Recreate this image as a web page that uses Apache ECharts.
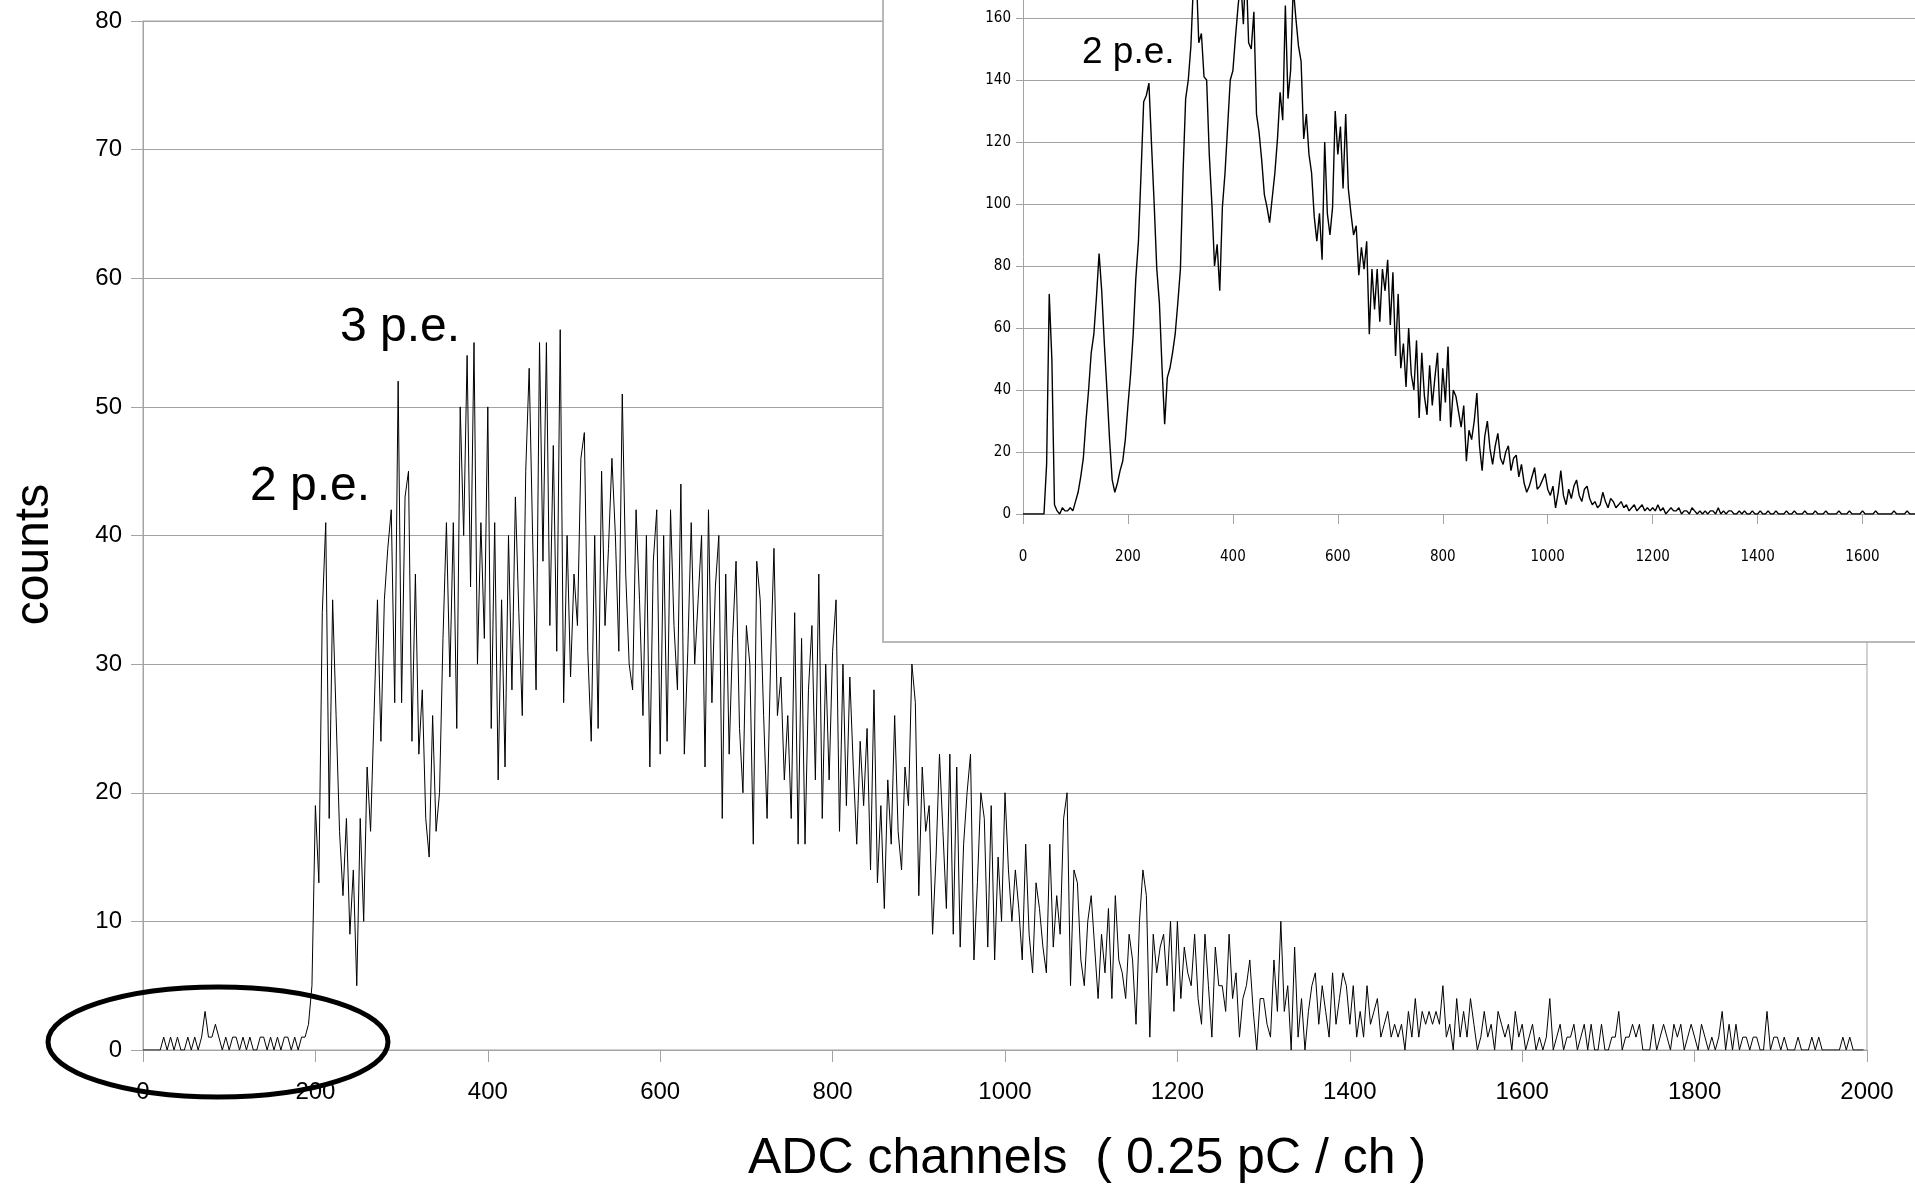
<!DOCTYPE html>
<html>
<head>
<meta charset="utf-8">
<title>ADC spectrum</title>
<script src="https://cdn.jsdelivr.net/npm/echarts@6.0.0/dist/echarts.min.js"></script>
<style>
  html, body { margin: 0; padding: 0; background: #fff; }
  #chart { width: 1915px; height: 1184px; }
</style>
</head>
<body>
<div id="chart"></div>
<script>
// main spectrum: counts per ADC bin, one value every 4 channels (0..1996)
const mainStep = 4;
const mainCounts = [
  0,0,0,0,0,0,1,0,1,0,1,0,0,1,0,1,0,1,3,1,1,2,1,0,1,
  0,1,1,0,1,0,1,0,0,1,1,0,1,0,1,0,1,1,0,1,0,1,1,2,5,
  19,13,34,41,18,35,26,17,12,18,9,14,5,18,10,22,17,26,35,24,35,39,42,27,52,
  27,43,45,24,37,23,28,18,15,26,17,20,32,41,29,41,25,50,40,54,36,55,30,41,32,
  50,25,41,21,35,22,40,28,43,34,26,45,53,40,28,55,38,55,33,47,31,56,27,40,29,
  37,33,46,48,31,24,40,25,45,33,39,46,40,31,51,37,30,28,42,35,26,40,22,38,42,
  23,40,24,42,33,28,44,23,31,41,30,35,40,22,42,27,36,40,18,37,23,32,38,25,20,
  33,30,16,38,35,26,18,30,39,26,29,21,26,18,34,16,32,16,28,33,21,37,18,30,21,
  31,35,17,30,19,29,22,16,24,19,25,14,28,13,19,11,21,16,26,17,14,22,19,30,27,
  12,22,17,19,9,15,23,17,11,23,9,22,8,16,20,23,7,13,20,18,8,19,7,15,10,
  20,14,10,14,11,7,16,9,6,13,11,8,6,16,8,12,9,18,20,5,14,13,7,5,10,
  12,8,4,9,6,11,4,12,7,6,4,9,7,2,10,14,12,1,9,6,8,9,5,10,3,
  10,4,8,6,5,9,4,2,9,5,1,8,5,5,3,9,4,6,1,4,5,7,3,0,4,
  4,2,1,7,3,10,3,5,0,8,1,4,0,3,5,6,2,5,3,1,6,2,4,6,5,
  2,5,1,3,1,5,2,3,4,1,2,3,1,2,1,2,0,3,1,4,1,3,2,3,2,
  3,2,5,1,2,0,4,1,3,1,4,2,0,1,3,1,2,0,3,2,1,2,0,3,1,
  2,0,1,2,0,1,0,1,4,0,1,2,0,1,1,2,0,1,2,0,2,0,0,2,0,
  0,1,1,3,0,1,1,2,1,2,0,0,0,2,0,1,2,1,0,2,1,2,0,1,2,
  1,0,2,1,0,1,0,1,3,0,2,0,2,0,1,1,0,1,1,0,0,3,0,1,1,
  0,1,0,0,0,1,0,0,0,1,0,1,0,0,0,0,0,0,1,0,1,0,0,0,0
];

// inset spectrum: one value every 5 channels (0..1700)
const insetStep = 5;
const insetCounts = [
  0,0,0,0,0,0,0,0,0,16,71,50,3,1,0,2,1,1,2,1,
  4,7,12,18,30,40,52,58,70,84,72,55,40,24,11,7,10,14,17,24,
  35,45,58,76,88,110,133,135,139,119,100,79,68,47,29,44,47,52,58,68,
  79,110,134,140,151,172,176,152,155,141,140,116,100,80,87,72,99,110,125,140,
  143,154,164,172,158,178,152,150,162,129,123,114,103,99,94,102,110,121,136,127,
  164,134,143,170,160,151,146,121,129,116,110,96,88,97,82,120,97,90,99,130,
  116,125,105,129,105,97,90,93,77,86,79,88,58,79,66,79,62,79,72,82,
  61,78,51,71,47,55,41,60,45,40,56,31,52,38,32,48,35,44,52,30,
  47,36,54,28,40,38,33,28,35,17,27,24,30,39,22,14,25,30,21,16,
  22,26,18,16,20,22,14,18,19,12,16,10,7,9,12,15,8,9,11,13,
  8,6,9,2,7,14,6,3,8,5,9,11,6,4,8,9,5,3,4,2,
  3,7,4,2,5,4,2,3,4,2,3,1,2,3,1,2,3,1,2,1,
  2,1,3,1,2,0,1,2,1,1,2,0,1,1,0,2,1,0,1,0,
  1,0,1,1,0,2,0,1,0,1,1,0,0,1,0,1,0,0,1,0,
  0,1,0,0,1,0,0,1,0,0,0,1,0,0,1,0,0,0,1,0,
  0,0,1,0,0,0,1,0,0,0,0,1,0,0,0,1,0,0,0,0,
  1,0,0,0,0,1,0,0,0,0,0,0,1,0,0,0,0,1,0,0,
  0
];

const mainXTicks = [0, 200, 400, 600, 800, 1000, 1200, 1400, 1600, 1800, 2000];
const mainYTicks = [0, 10, 20, 30, 40, 50, 60, 70, 80];
const insetXTicks = [0, 200, 400, 600, 800, 1000, 1200, 1400, 1600];
const insetYTicks = [0, 20, 40, 60, 80, 100, 120, 140, 160, 180];

const peakLabels = ["2 p.e.", "3 p.e."];
const xTitle = "ADC channels  ( 0.25 pC / ch )";
const yTitle = "counts";

var mainData = mainCounts.map(function (v, i) { return [i * mainStep, v]; });
var insetData = insetCounts.map(function (v, i) { return [i * insetStep, v]; });

var grey = "#a3a3a3";
var sans = '"Liberation Sans", Arial, sans-serif';
var narrow = '"DejaVu Sans Condensed", "Liberation Sans Narrow", sans-serif';

function plain(v) { return String(v); }

var myChart = echarts.init(document.getElementById("chart"), null, { renderer: "canvas" });

var option = {
  animation: false,
  backgroundColor: "#fff",
  grid: [
    {
      left: 143, right: 48, top: 21, bottom: 134, outerBoundsMode: "none",
      show: true, borderColor: grey, borderWidth: 1, backgroundColor: "transparent"
    },
    {
      // top is off the page on purpose: the inset is cropped above 165
      left: 1023, right: 0, top: -44, bottom: 670, outerBoundsMode: "none"
    }
  ],
  xAxis: [
    {
      gridIndex: 0, type: "value",
      min: mainXTicks[0], max: mainXTicks[mainXTicks.length - 1], interval: 200,
      name: xTitle, nameLocation: "middle", nameGap: 84,
      nameTextStyle: { fontFamily: sans, fontSize: 50, color: "#000", padding: [0, 0, 0, 164] },
      axisLine: { show: true, lineStyle: { color: grey, width: 1 } },
      axisTick: { show: true, length: 12, lineStyle: { color: grey } },
      axisLabel: { fontFamily: sans, fontSize: 24, color: "#000", margin: 30, formatter: plain },
      splitLine: { show: false }
    },
    {
      gridIndex: 1, type: "value", z: 20,
      min: insetXTicks[0], max: 1700, interval: 200,
      axisLine: { show: true, lineStyle: { color: grey, width: 1 } },
      axisTick: { show: true, length: 10, lineStyle: { color: grey } },
      axisLabel: {
        fontFamily: narrow, fontSize: 15, color: "#000", margin: 36,
        formatter: function (v) { return insetXTicks.indexOf(v) >= 0 ? String(v) : ""; }
      },
      splitLine: { show: false }
    }
  ],
  yAxis: [
    {
      gridIndex: 0, type: "value",
      min: mainYTicks[0], max: mainYTicks[mainYTicks.length - 1], interval: 10,
      name: yTitle, nameLocation: "middle", nameGap: 84, nameRotate: 90,
      nameTextStyle: { fontFamily: sans, fontSize: 48, color: "#000", padding: [0, 38, 0, 0] },
      axisLine: { show: true, lineStyle: { color: grey, width: 1 } },
      axisTick: { show: true, length: 12, lineStyle: { color: grey } },
      axisLabel: { fontFamily: sans, fontSize: 24, color: "#000", margin: 21, formatter: plain },
      splitLine: { show: true, lineStyle: { color: grey, width: 1 } }
    },
    {
      gridIndex: 1, type: "value", z: 20,
      min: insetYTicks[0], max: insetYTicks[insetYTicks.length - 1], interval: 20,
      axisLine: { show: true, lineStyle: { color: grey, width: 1 } },
      axisTick: { show: true, length: 7, lineStyle: { color: grey } },
      axisLabel: { fontFamily: narrow, fontSize: 15, color: "#000", margin: 12, formatter: plain },
      splitLine: { show: true, lineStyle: { color: grey, width: 1 } }
    }
  ],
  series: [
    {
      name: "main", type: "line", xAxisIndex: 0, yAxisIndex: 0, z: 2,
      data: mainData, showSymbol: false, symbol: "none", sampling: null,
      lineStyle: { color: "#000", width: 1 }
    },
    {
      name: "inset", type: "line", xAxisIndex: 1, yAxisIndex: 1, z: 25,
      data: insetData, showSymbol: false, symbol: "none", clip: true,
      lineStyle: { color: "#000", width: 1.4 }
    }
  ],
  graphic: [
    // white inset panel covering the upper right of the main plot
    {
      type: "rect", z: 10, silent: true,
      shape: { x: 883, y: -10, width: 1040, height: 652 },
      style: { fill: "#fff", stroke: grey, lineWidth: 1.5 }
    },
    {
      type: "text", z: 40, silent: true, x: 250, y: 487,
      style: { text: peakLabels[0], font: "48px " + sans, fill: "#000", textVerticalAlign: "middle" }
    },
    {
      type: "text", z: 40, silent: true, x: 340, y: 328,
      style: { text: peakLabels[1], font: "48px " + sans, fill: "#000", textVerticalAlign: "middle" }
    },
    {
      type: "text", z: 40, silent: true, x: 1082, y: 53,
      style: { text: peakLabels[0], font: "37px " + sans, fill: "#000", textVerticalAlign: "middle" }
    },
    // hand drawn ring around the pedestal region
    {
      type: "ellipse", z: 40, silent: true,
      shape: { cx: 218, cy: 1042, rx: 170, ry: 55 },
      style: { fill: "none", stroke: "#000", lineWidth: 5 }
    }
  ]
};

myChart.setOption(option, true);
window.addEventListener("resize", function () { myChart.resize(); });
</script>
</body>
</html>
